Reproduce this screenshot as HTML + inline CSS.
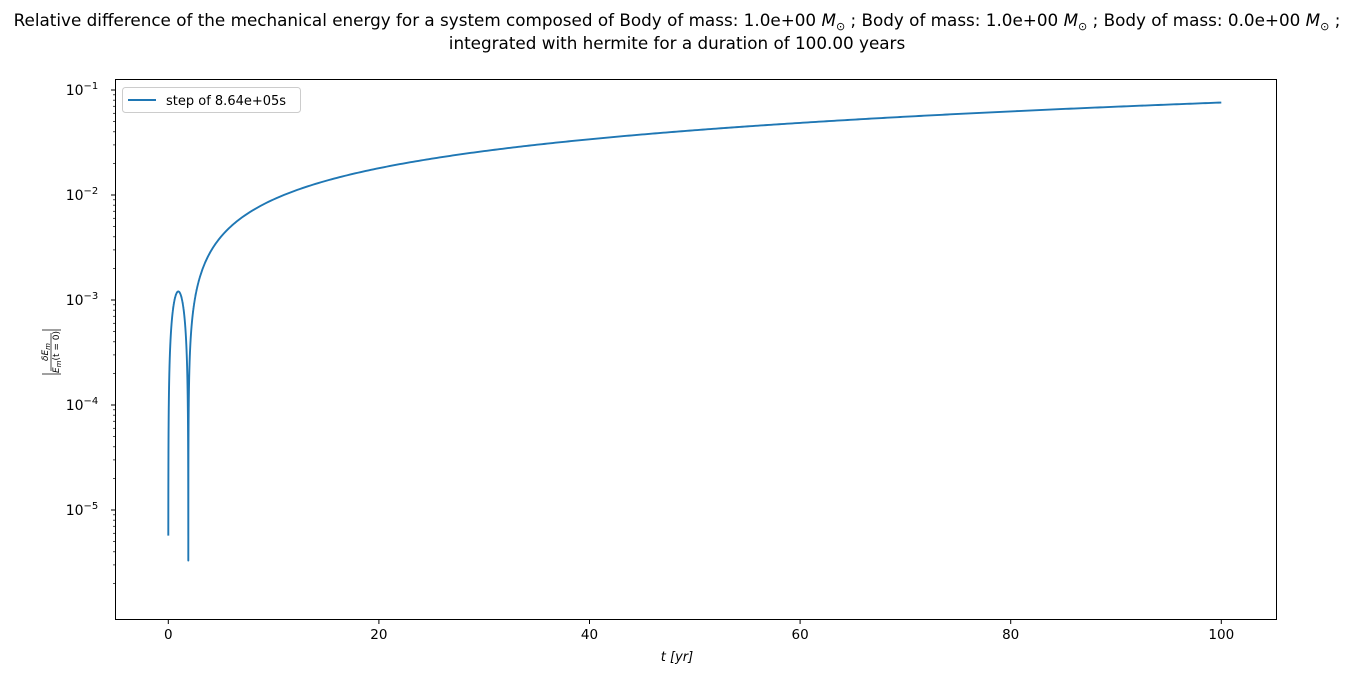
<!DOCTYPE html>
<html><head><meta charset="utf-8"><style>
body{margin:0;background:#fff;}
svg{display:block;font-family:"DejaVu Sans","Liberation Sans",sans-serif;}
</style></head><body>
<svg id="s" width="1354" height="676" viewBox="0 0 1354 676" xmlns="http://www.w3.org/2000/svg">
<rect width="1354" height="676" fill="#fff"/>
<text x="677" y="26" font-size="16.8" text-anchor="middle">Relative difference of the mechanical energy for a system composed of Body of mass: 1.0e+00 <tspan font-style="italic">M</tspan><tspan font-size="11" dy="4">⊙</tspan><tspan dy="-4"> ; Body of mass: 1.0e+00 </tspan><tspan font-style="italic">M</tspan><tspan font-size="11" dy="4">⊙</tspan><tspan dy="-4"> ; Body of mass: 0.0e+00 </tspan><tspan font-style="italic">M</tspan><tspan font-size="11" dy="4">⊙</tspan><tspan dy="-4"> ;</tspan></text>
<text x="677" y="49" font-size="16.8" text-anchor="middle">integrated with hermite for a duration of 100.00 years</text>
<g id="ax"></g>
<path id="curve" fill="none" stroke="#1f77b4" stroke-width="1.9" stroke-linejoin="round"/>
<rect x="115.5" y="79.5" width="1161" height="540" fill="none" stroke="#000" stroke-width="1"/>
<rect x="122.5" y="87.5" width="178" height="25" rx="3" fill="#fff" stroke="#ccc"/>
<line x1="128" y1="100" x2="156" y2="100" stroke="#1f77b4" stroke-width="1.9"/>
<text x="166" y="105" font-size="13">step of 8.64e+05s</text>
<text x="677" y="661" font-size="13" text-anchor="middle" font-style="italic">t [yr]</text>
<g transform="translate(52,352) rotate(-90)">
<text x="0" y="-4" font-size="9" text-anchor="middle" font-style="italic">δE<tspan font-size="7" dy="2">m</tspan></text>
<line x1="-19" y1="-1" x2="19" y2="-1" stroke="#000" stroke-width="0.7"/>
<text x="0" y="7" font-size="9" text-anchor="middle" font-style="italic">E<tspan font-size="7" dy="2">m</tspan><tspan dy="-2" font-style="normal">(t = 0)</tspan></text>
<line x1="-22" y1="-10" x2="-22" y2="9" stroke="#000" stroke-width="0.8"/>
<line x1="22" y1="-10" x2="22" y2="9" stroke="#000" stroke-width="0.8"/>
</g>
</svg>
<script>
var X=t=>168.3+t*10.53, Y=v=>90-105*(Math.log10(v)+1);
var ax=document.getElementById('ax'),h='';
for(var i=0;i<=100;i+=20){var x=X(i);h+=`<line x1="${x}" y1="620" x2="${x}" y2="624" stroke="#000"/><text x="${x}" y="639" font-size="13.5" text-anchor="middle">${i}</text>`;}
for(var e=-5;e<=-1;e++){var y=Y(Math.pow(10,e));h+=`<line x1="111" y1="${y}" x2="115" y2="${y}" stroke="#000"/><text x="82" y="${y+5}" font-size="14" text-anchor="middle">10<tspan font-size="10" dy="-6">−${-e}</tspan></text>`;
for(var k=2;k<10;k++){var v=k*Math.pow(10,e);var yy=Y(v);if(yy>80&&yy<619)h+=`<line x1="113" y1="${yy}" x2="115" y2="${yy}" stroke="#000" stroke-width="0.7"/>`;}}
for(var k=2;k<10;k++){var yy=Y(k*1e-6);if(yy<619)h+=`<line x1="113" y1="${yy}" x2="115" y2="${yy}" stroke="#000" stroke-width="0.7"/>`;}
ax.innerHTML=h;
var d='',t0=1.9,a=0.018/Math.pow(18.1,0.852);
function g(t){if(t<t0){return Math.max(5.7e-6,1.2e-3*Math.sin(Math.PI*t/t0)+5.7e-6);}return Math.max(3.3e-6,a*Math.pow(t-t0,0.852));}
var pts=[];for(var t=0;t<t0;t+=0.005)pts.push(t);pts.push(t0);for(var t=t0+0.002;t<3;t+=0.005)pts.push(t);for(var t=3;t<=100;t+=0.25)pts.push(t);
pts.forEach((t,i)=>{d+=(i?'L':'M')+X(t).toFixed(2)+' '+Y(g(t)).toFixed(2);});
document.getElementById('curve').setAttribute('d',d);
</script>
</body></html>
